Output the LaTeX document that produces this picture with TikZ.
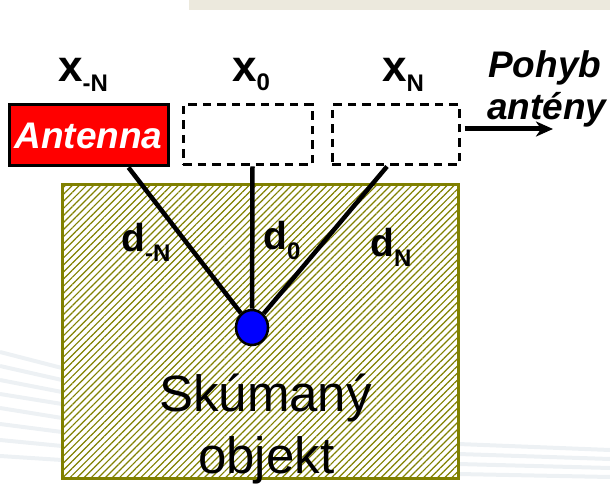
\documentclass[tikz,border=0pt]{standalone}
\usepackage{fontspec}
\setmainfont{Liberation Sans}
\usetikzlibrary{patterns.meta,arrows.meta,shapes.geometric}
\definecolor{bandbeige}{HTML}{ECE9DD}
\definecolor{hatcholive}{HTML}{808000}
\definecolor{swoosh}{HTML}{EDF1F4}
% lowered subscript for the position and distance labels
\newcommand\lowsub[2][10pt]{\raisebox{-#1}{\fontsize{24}{24}\selectfont\bfseries #2}}
\begin{document}
\begin{tikzpicture}[x=1pt,y=1pt,
  poslabel/.style={anchor=base west,inner sep=0pt,font=\fontsize{44}{44}\selectfont\bfseries},
  distlabel/.style={anchor=base west,inner sep=0pt,font=\fontsize{39}{39}\selectfont\bfseries},
  motion/.style={anchor=base west,inner sep=0pt,font=\fontsize{37}{37}\selectfont\bfseries\itshape},
  objtext/.style={anchor=base west,inner sep=0pt,font=\fontsize{51}{51}\selectfont},
  antbox/.style={draw=black,line width=3pt,fill=red,minimum width=159pt,minimum height=61pt,inner sep=0pt,
    text=white,font=\fontsize{37}{37}\selectfont\bfseries\itshape},
  ghostbox/.style={draw=black,line width=3pt,dash pattern=on 8.5pt off 6pt,minimum height=60pt,inner sep=0pt},
  ray/.style={line width=4.5pt,black},
  motionarrow/.style={line width=5pt,-{Stealth[length=17pt,width=15pt,inset=5pt]}}
]
\useasboundingbox (0,0) rectangle (610,484);

% faint background streaks
\foreach \y/\d in {132/16,118/14,104/12,90/10,76/10,60/8,44/6,28/4}
  \draw[swoosh,line width=4pt] (0,\y) -- (62,\y-\d);
\foreach \y/\d in {40/6,30/5,20/4,10/3}
  \draw[swoosh,line width=4pt] (458,\y) -- (610,\y-\d);
\fill[bandbeige] (189,474) rectangle (610,484);

% examined object
\path[pattern={Lines[angle=45,distance=5pt,line width=1.2pt]},pattern color=hatcholive]
  (62,5) rectangle (458,299);
\draw[hatcholive,line width=3pt] (62,5) rectangle (458,299);

% antenna positions
\node[antbox] (ant) at (88.5,348.5) {Antenna};
\node[ghostbox,minimum width=129pt] (pos0) at (247.5,349) {};
\node[ghostbox,minimum width=127pt] (posN) at (395.5,349) {};

% target point
\node[ellipse,draw=black,line width=2.5pt,fill=blue,minimum width=32pt,minimum height=35pt,inner sep=0pt]
  (dot) at (252,156.5) {};

% distances from each antenna position to the target
\draw[ray] ([xshift=-41pt]ant.south east) -- (dot);
\draw[ray] ([xshift=5pt]pos0.south) -- (dot);
\draw[ray] ([xshift=-8.5pt]posN.south) -- (dot);

% direction of antenna motion
\coordinate (motionend) at (553,355);
\draw[motionarrow] ([yshift=6pt,xshift=4pt]posN.east) -- (motionend);

% labels
\node[poslabel] (lxm) at (58,402) {x\lowsub{-N}};
\node[poslabel] (lx0) at (232,402) {x\lowsub[9pt]{0}};
\node[poslabel] (lxn) at (382,402) {x\lowsub{N}};
\node[motion] (pohyb) at (488,406) {Pohyb};
\node[motion] (anteny) at (487,364) {antény};

\node[distlabel] (ldm) at (121,232) {d\lowsub{-N}};
\node[distlabel] (ld0) at (263,234) {d\lowsub{0}};
\node[distlabel] (ldn) at (370,227) {d\lowsub{N}};

\node[objtext] (obj1) at (159,72) {Skúmaný};
\node[objtext] (obj2) at (198,10) {objekt};
\end{tikzpicture}
\end{document}
